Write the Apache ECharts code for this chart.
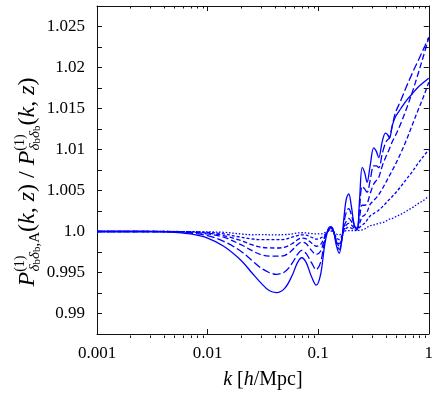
<!DOCTYPE html>
<html>
<head>
<meta charset="utf-8">
<script src="https://cdn.jsdelivr.net/npm/echarts@6.0.0/dist/echarts.min.js"></script>
<style>
html, body {margin:0; padding:0; background:#fff;}
#chart {width:436px; height:395px;}
</style>
</head>
<body>
<div id="chart"></div>
<script>
// wavenumbers k [h/Mpc]
var kVals = [0.001, 0.002, 0.003, 0.004, 0.005, 0.007, 0.01, 0.014, 0.02, 0.025,
             0.03, 0.036, 0.042, 0.05, 0.058, 0.065, 0.071, 0.078, 0.087, 0.096,
             0.105, 0.115, 0.124, 0.13, 0.137, 0.146, 0.155, 0.163, 0.172, 0.18,
             0.189, 0.2, 0.212, 0.225, 0.237, 0.25, 0.263, 0.277, 0.295, 0.318,
             0.335, 0.353, 0.38, 0.406, 0.425, 0.441, 0.47, 0.5, 0.56, 0.63,
             0.71, 0.8, 0.9, 1.0];

// ratio curves, one per line style (solid -> dotted)
var ratioSolid = [1.0, 1.0, 0.99999, 0.99996, 0.9999, 0.9997, 0.9992, 0.9982, 0.9965, 0.995,
                  0.9938, 0.9928, 0.99255, 0.9931, 0.9946, 0.9962, 0.9968, 0.9962, 0.9945, 0.99345,
                  0.9947, 0.9985, 1.0004, 1.0006, 1.0002, 0.9983, 0.99735, 0.9988, 1.002, 1.004,
                  1.0046, 1.003, 1.0008, 1.0002, 1.004, 1.0078, 1.0072, 1.006, 1.008, 1.0102,
                  1.0098, 1.009, 1.011, 1.012, 1.0118, 1.0114, 1.013, 1.014, 1.015, 1.016,
                  1.0168, 1.0176, 1.0182, 1.0187];
var ratioLongDash = [1.0, 1.0, 1.0, 0.99998, 0.99994, 0.9998, 0.9995, 0.9988, 0.9976, 0.9965,
                     0.9956, 0.995, 0.99478, 0.9951, 0.9961, 0.9972, 0.9977, 0.9973, 0.9962, 0.99535,
                     0.9962, 0.999, 1.0003, 1.0005, 1.0001, 0.9986, 0.9978, 0.9988, 1.0012, 1.0024,
                     1.0028, 1.002, 1.0008, 1.0005, 1.003, 1.0055, 1.0052, 1.0048, 1.0062, 1.008,
                     1.008, 1.0078, 1.0095, 1.0108, 1.0112, 1.0114, 1.013, 1.0145, 1.016, 1.0177,
                     1.0193, 1.0208, 1.0223, 1.0237];
var ratioDash = [1.0, 1.0, 1.0, 0.99999, 0.99997, 0.9999, 0.9997, 0.9993, 0.9984, 0.9977,
                 0.9972, 0.997, 0.99699, 0.9971, 0.9977, 0.9984, 0.9987, 0.9985, 0.9977, 0.9972,
                 0.9976, 0.9993, 1.0003, 1.0004, 1.0, 0.9988, 0.9982, 0.999, 1.0006, 1.0013,
                 1.0016, 1.0012, 1.0006, 1.0004, 1.0018, 1.0032, 1.0032, 1.0034, 1.0046, 1.0058,
                 1.0062, 1.0066, 1.008, 1.009, 1.0096, 1.0101, 1.011, 1.0117, 1.0132, 1.015,
                 1.017, 1.0192, 1.0215, 1.0236];
var ratioMidDash = [1.0, 1.0, 1.0, 1.0, 0.99998, 0.99993, 0.9998, 0.9995, 0.9989, 0.9984,
                    0.9981, 0.998, 0.99799, 0.9981, 0.9985, 0.999, 0.9992, 0.9991, 0.9986, 0.9982,
                    0.9984, 0.9994, 1.0002, 1.0003, 1.0, 0.999, 0.9985, 0.9991, 1.0003, 1.0008,
                    1.001, 1.0008, 1.0004, 1.0003, 1.001, 1.0018, 1.002, 1.0024, 1.0033, 1.0038,
                    1.0041, 1.0045, 1.0052, 1.0059, 1.0064, 1.0068, 1.0075, 1.0082, 1.0096, 1.0112,
                    1.013, 1.0148, 1.0165, 1.0182];
var ratioShortDash = [1.0, 1.0, 1.0, 1.0, 0.99999, 0.99996, 0.9999, 0.9997, 0.9993, 0.9991,
                      0.999, 0.999, 0.999, 0.99905, 0.9993, 0.9995, 0.9996, 0.99955, 0.9993, 0.99907,
                      0.9992, 0.9996, 1.0001, 1.0002, 1.0, 0.9993, 0.999, 0.9994, 1.0001, 1.0004,
                      1.0005, 1.0004, 1.0002, 1.0002, 1.0005, 1.0008, 1.001, 1.0014, 1.0019, 1.0022,
                      1.0024, 1.0026, 1.003, 1.0034, 1.0037, 1.0039, 1.0043, 1.0047, 1.0055, 1.0064,
                      1.0073, 1.0083, 1.0092, 1.01];
var ratioDotted = [1.0, 1.0, 1.0, 1.0, 1.0, 0.99998, 0.99995, 0.9999, 0.9997, 0.9996,
                   0.99962, 0.9996, 0.9996, 0.99962, 0.9997, 0.99982, 0.99985, 0.99982, 0.99975, 0.9997,
                   0.9997, 0.99985, 1.00002, 1.00005, 1.0, 0.9997, 0.9996, 0.9997, 0.99995, 1.0001,
                   1.0001, 1.0001, 1.0001, 1.0001, 1.00015, 1.0002, 1.0003, 1.0005, 1.0007, 1.0008,
                   1.0009, 1.001, 1.0011, 1.0012, 1.0014, 1.0015, 1.0016, 1.0018, 1.0021, 1.0025,
                   1.0029, 1.0034, 1.0038, 1.0043];

// axis ticks
var xMinorTicks = [0.002, 0.003, 0.004, 0.005, 0.006, 0.007, 0.008, 0.009,
                   0.02, 0.03, 0.04, 0.05, 0.06, 0.07, 0.08, 0.09,
                   0.2, 0.3, 0.4, 0.5, 0.6, 0.7, 0.8, 0.9];
// y tick texts keyed by value*10000; '1.0' is split in rich pieces so it keeps its '.0'
var yTickText = {9900: '0.99', 9950: '0.995', 10000: '{d|1}{d|.}{d|0}', 10050: '1.005',
                 10100: '1.01', 10150: '1.015', 10200: '1.02', 10250: '1.025'};

var FONT = 'Liberation Serif';
var BLUE = '#0000ff';
var AXIS_COLOR = '#111';
var gridBox = {left: 97, right: 6, top: 6, bottom: 57};

function pairs(ys) {
    var out = [];
    for (var i = 0; i < kVals.length; i++) out.push([kVals[i], ys[i]]);
    return out;
}

function lineSeries(ys, dash) {
    return {
        type: 'line', xAxisIndex: 0, yAxisIndex: 0,
        data: pairs(ys), showSymbol: false, symbol: 'none',
        smooth: 0.35, silent: true,
        lineStyle: {color: BLUE, width: 1.3, type: dash}
    };
}

// x axis: major ticks (grid 0) and the 2..9 ticks (grid 1) on bottom and top
function xAxisCfg(grid, pos, major) {
    return {
        type: 'log', logBase: 10, min: 0.001, max: 1, gridIndex: grid, position: pos,
        axisLine: {show: major, onZero: false, lineStyle: {color: AXIS_COLOR, width: 1}},
        axisTick: major ? {inside: true, length: 5, lineStyle: {color: AXIS_COLOR}}
                        : {inside: true, length: 2.5, customValues: xMinorTicks, lineStyle: {color: AXIS_COLOR}},
        axisLabel: {show: major && pos == 'bottom', margin: 11, fontFamily: FONT, fontSize: 17, color: '#000',
                    formatter: function(v) { return String(parseFloat(Number(v).toPrecision(3))); }},
        splitLine: {show: false}, minorTick: {show: false}
    };
}

// y axis: a tick every 0.0025 on both sides, a label every 0.005 on the left
function yAxisCfg(pos) {
    return {
        type: 'value', min: 0.9875, max: 1.0275, interval: 0.0025, position: pos, gridIndex: 0,
        axisLine: {show: true, onZero: false, lineStyle: {color: AXIS_COLOR, width: 1}},
        axisTick: {inside: true, length: 5, lineStyle: {color: AXIS_COLOR}},
        axisLabel: {show: pos == 'left', interval: 0, margin: 12, overflow: 'none',
                    fontFamily: FONT, fontSize: 17, color: '#000',
                    rich: {d: {fontFamily: FONT, fontSize: 17, color: '#000'}},
                    formatter: function(v) {
                        var t = Math.round(Number(v) * 10000);
                        return yTickText[t] !== undefined ? yTickText[t] : '';
                    }},
        splitLine: {show: false}
    };
}

var xAxes = [xAxisCfg(0, 'bottom', true), xAxisCfg(0, 'top', true),
             xAxisCfg(1, 'bottom', false), xAxisCfg(1, 'top', false)];
xAxes[0].name = '{i|k} [{i|h}/Mpc]';
xAxes[0].nameLocation = 'middle';
xAxes[0].nameGap = 46;
xAxes[0].nameTextStyle = {fontFamily: FONT, fontSize: 20, color: '#000', verticalAlign: 'middle',
                          rich: {i: {fontFamily: FONT, fontSize: 20, fontStyle: 'italic', color: '#000'}}};

var yAxes = [yAxisCfg('left'), yAxisCfg('right'),
             {type: 'value', gridIndex: 1, show: false, min: 0, max: 1}];

// y axis title; the (1) gets negative right padding so the subscript sits under it
var ttl = '{P|P}{sup|(1)}{sub|δ}{ss|b}{sub|δ}{ss|b}{sr|,A}{n|(}{i|k}{n|, }{i|z}{n|) / }'
        + '{P|P}{sup|(1)}{sub|δ}{ss|b}{sub|δ}{ss|b}{n|(}{i|k}{n|, }{i|z}{n|)}';
var ttlRich = {
    P:   {fontFamily: FONT, fontSize: 24, fontStyle: 'italic', lineHeight: 30, color: '#000'},
    n:   {fontFamily: FONT, fontSize: 24, lineHeight: 30, color: '#000'},
    i:   {fontFamily: FONT, fontSize: 24, fontStyle: 'italic', lineHeight: 30, color: '#000'},
    sup: {fontFamily: FONT, fontSize: 14, lineHeight: 12, verticalAlign: 'top', padding: [0, -16, 0, 0], color: '#000'},
    sub: {fontFamily: FONT, fontSize: 15, fontStyle: 'italic', lineHeight: 13, verticalAlign: 'bottom', color: '#000'},
    ss:  {fontFamily: FONT, fontSize: 11, lineHeight: 22, verticalAlign: 'bottom', color: '#000'},
    sr:  {fontFamily: FONT, fontSize: 15, lineHeight: 13, verticalAlign: 'bottom', color: '#000'}
};

var option = {
    animation: false,
    backgroundColor: '#fff',
    grid: [
        {left: gridBox.left, right: gridBox.right, top: gridBox.top, bottom: gridBox.bottom, containLabel: false},
        {left: gridBox.left, right: gridBox.right, top: gridBox.top, bottom: gridBox.bottom, containLabel: false}
    ],
    xAxis: xAxes,
    yAxis: yAxes,
    graphic: [{
        type: 'text', x: 28, y: 182, rotation: Math.PI / 2, silent: true,
        style: {text: ttl, rich: ttlRich, align: 'center', verticalAlign: 'middle'}
    }],
    series: [
        lineSeries(ratioSolid, 'solid'),
        lineSeries(ratioLongDash, [8, 3]),
        lineSeries(ratioDash, [6, 3]),
        lineSeries(ratioMidDash, [4.5, 2.5]),
        lineSeries(ratioShortDash, [3, 2]),
        lineSeries(ratioDotted, [1.5, 1.8])
    ]
};

var chart = echarts.init(document.getElementById('chart'), null, {renderer: 'canvas'});
chart.setOption(option);
</script>
</body>
</html>
